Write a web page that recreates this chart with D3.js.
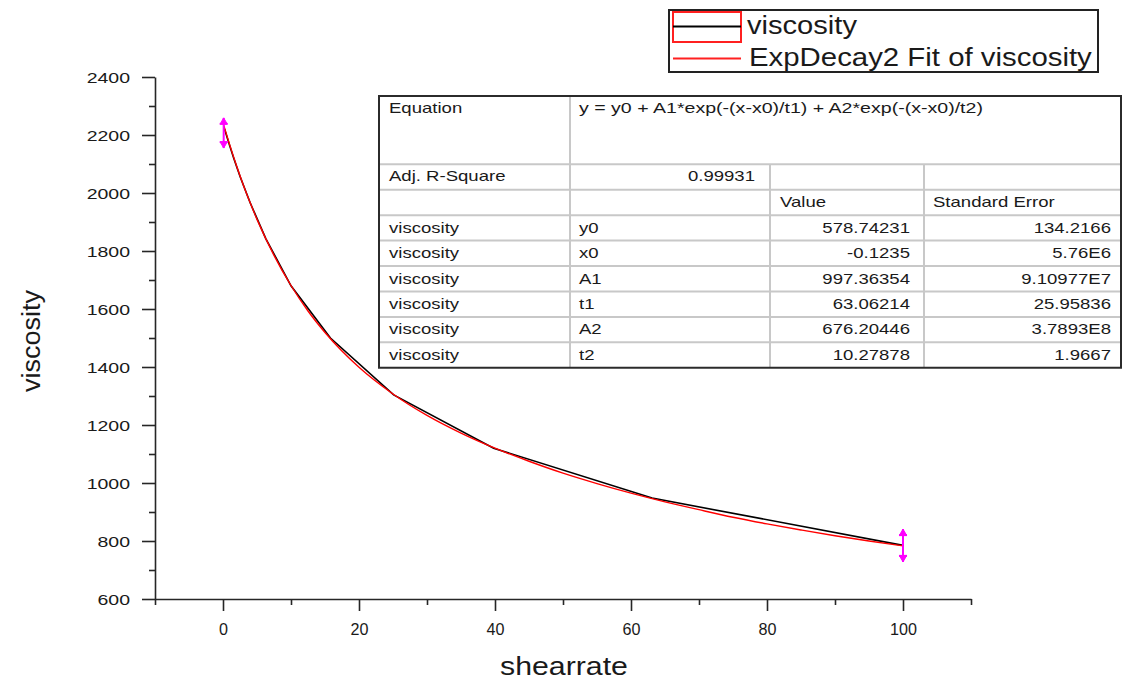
<!DOCTYPE html>
<html>
<head>
<meta charset="utf-8">
<script src="https://cdn.jsdelivr.net/npm/d3@7"></script>
<style>
  body { margin: 0; background: #fff; }
  svg { display: block; }
  text { font-family: "Liberation Sans", Arial, sans-serif; fill: #1a1a1a; }
</style>
</head>
<body>
<svg id="chart" width="1123" height="682"></svg>
<script>
// Measured viscosity vs. shear rate (log-spaced shear rates)
const shearRate = [0.1, 0.158, 0.251, 0.398, 0.631, 1, 1.58, 2.51, 3.98, 6.31, 10, 15.8, 25.1, 39.8, 63.1, 100];
const viscosity = [2226, 2224, 2218, 2208, 2190, 2162, 2120, 2057, 1967, 1842, 1680, 1500, 1304, 1120, 948, 785];

// Error bars on the first and last points
const errorX = [0.1, 100];
const errorLow = [2155, 728];
const errorHigh = [2259, 841];

// ExpDecay2 fit curve, sampled
const fitX = [0.1, 1, 2, 3, 4, 5, 7.5, 10, 12.5, 15, 20, 25, 30, 35, 40, 45, 50, 55, 60, 65, 70, 75, 80, 85, 90, 95, 100];
const fitY = [2234, 2165, 2093, 2027, 1966, 1909, 1785, 1681, 1593, 1519, 1399, 1307, 1233, 1172, 1120, 1075, 1034, 998, 965, 935, 908, 882, 859, 838, 818, 800, 783];

// Axis ticks
const xTicks = [0, 20, 40, 60, 80, 100];
const xMinorTicks = [-10, 10, 30, 50, 70, 90, 110];
const yTicks = [600, 800, 1000, 1200, 1400, 1600, 1800, 2000, 2200, 2400];
const yMinorTicks = [700, 900, 1100, 1300, 1500, 1700, 1900, 2100, 2300];

// Fit report table
const equationText = "y = y0 + A1*exp(-(x-x0)/t1) + A2*exp(-(x-x0)/t2)";
const adjR2 = "0.99931";
const paramNames = ["y0", "x0", "A1", "t1", "A2", "t2"];
const paramValues = ["578.74231", "-0.1235", "997.36354", "63.06214", "676.20446", "10.27878"];
const paramErrors = ["134.2166", "5.76E6", "9.10977E7", "25.95836", "3.7893E8", "1.9667"];

const legendLabels = ["viscosity", "ExpDecay2 Fit of viscosity"];

const svg = d3.select("#chart");

const x = d3.scaleLinear().domain([-10, 110]).range([155, 971]);
const y = d3.scaleLinear().domain([600, 2400]).range([599, 77]);

// Text helper: positions text and stretches it horizontally
function label(parent, str, px, py, size, opts = {}) {
  const t = parent.append("text")
    .attr("text-anchor", opts.anchor || "start")
    .style("font-size", size + "px")
    .style("font-weight", opts.weight || "normal")
    .text(str);
  let k = opts.k || 1;
  if (opts.width) k = opts.width / t.node().getComputedTextLength();
  const rot = opts.rotate ? ` rotate(${opts.rotate})` : "";
  t.attr("transform", `translate(${px},${py})${rot} scale(${k},1)`);
  return t;
}

// ---- Axes ----
const axisColor = "#262626";

function styleAxis(g) {
  g.attr("font-family", null).attr("font-size", null);
  g.selectAll("path.domain").attr("stroke", axisColor).attr("stroke-width", 1.6);
  g.selectAll("line").attr("stroke", axisColor).attr("stroke-width", 1.6);
}

// y axis
const yAxisG = svg.append("g").attr("transform", "translate(155,0)")
  .call(d3.axisLeft(y).tickValues(yTicks).tickSize(13).tickSizeOuter(0).tickFormat(d3.format("d")));
styleAxis(yAxisG);
yAxisG.selectAll(".tick text").each(function () {
  d3.select(this).attr("x", null).attr("dy", null)
    .attr("transform", "translate(-25,5.5) scale(1.3,1)")
    .style("font-size", "15px");
});
const yMinorG = svg.append("g").attr("transform", "translate(155,0)")
  .call(d3.axisLeft(y).tickValues(yMinorTicks).tickSize(6).tickSizeOuter(0).tickFormat(""));
styleAxis(yMinorG);
yMinorG.select("path.domain").remove();

// x axis
const xAxisG = svg.append("g").attr("transform", "translate(0,599)")
  .call(d3.axisBottom(x).tickValues(xTicks).tickSize(12).tickSizeOuter(0).tickFormat(d3.format("d")));
styleAxis(xAxisG);
xAxisG.selectAll(".tick text").each(function () {
  d3.select(this).attr("y", null).attr("dy", null)
    .attr("transform", "translate(0,36) scale(0.95,1)")
    .style("font-size", "17px");
});
const xMinorG = svg.append("g").attr("transform", "translate(0,599)")
  .call(d3.axisBottom(x).tickValues(xMinorTicks).tickSize(6).tickSizeOuter(0).tickFormat(""));
styleAxis(xMinorG);
xMinorG.select("path.domain").remove();

// Axis titles
label(svg, "shearrate", 564, 675, 26, { anchor: "middle", width: 128 });
label(svg, "viscosity", 40, 341, 25, { anchor: "middle", width: 102, rotate: -90 });

// ---- Series ----
const dataLine = d3.line().x((d, i) => x(shearRate[i])).y(d => y(d));
svg.append("path")
  .attr("d", dataLine(viscosity))
  .attr("fill", "none").attr("stroke", "#000").attr("stroke-width", 1.6);

const fitLine = d3.line().x((d, i) => x(fitX[i])).y(d => y(d)).curve(d3.curveMonotoneX);
svg.append("path")
  .attr("d", fitLine(fitY))
  .attr("fill", "none").attr("stroke", "#ff0000").attr("stroke-width", 1.4);

// Error bars with arrow caps
const errG = svg.append("g").attr("fill", "#ff00ff").attr("stroke", "#ff00ff");
errorX.forEach((ex, i) => {
  const cx = x(ex), top = y(errorHigh[i]), bot = y(errorLow[i]);
  errG.append("line").attr("x1", cx).attr("x2", cx).attr("y1", top).attr("y2", bot).attr("stroke-width", 2);
  errG.append("path").attr("stroke-width", 1)
    .attr("d", `M${cx},${top} L${cx - 3.5},${top + 6} L${cx + 3.5},${top + 6} Z`);
  errG.append("path").attr("stroke-width", 1)
    .attr("d", `M${cx},${bot} L${cx - 3.5},${bot - 6} L${cx + 3.5},${bot - 6} Z`);
  errG.append("line").attr("x1", cx - 4).attr("x2", cx + 4).attr("y1", top + 6).attr("y2", top + 6).attr("stroke-width", 2);
  errG.append("line").attr("x1", cx - 4).attr("x2", cx + 4).attr("y1", bot - 6).attr("y2", bot - 6).attr("stroke-width", 2);
});

// ---- Legend ----
const lg = svg.append("g");
lg.append("rect").attr("x", 669).attr("y", 10).attr("width", 429).attr("height", 62)
  .attr("fill", "#fff").attr("stroke", "#222").attr("stroke-width", 2);
lg.append("rect").attr("x", 673).attr("y", 12).attr("width", 68).attr("height", 30)
  .attr("fill", "none").attr("stroke", "#ff2020").attr("stroke-width", 2);
lg.append("line").attr("x1", 673).attr("x2", 741).attr("y1", 26.5).attr("y2", 26.5)
  .attr("stroke", "#000").attr("stroke-width", 2);
lg.append("line").attr("x1", 673).attr("x2", 741).attr("y1", 58.5).attr("y2", 58.5)
  .attr("stroke", "#ff2020").attr("stroke-width", 2);
label(lg, legendLabels[0], 747, 34, 25, { width: 110 });
label(lg, legendLabels[1], 749, 66, 25, { width: 343 });

// ---- Fit report table ----
const tb = svg.append("g");
const colX = [379, 570, 770, 924, 1121];
const rowTop = 164.3, rowH = 25.43, tableTop = 96, tableBottom = rowTop + rowH * 8;
const grid = "#c8c8c8";
tb.append("rect").attr("x", colX[0]).attr("y", tableTop).attr("width", colX[4] - colX[0])
  .attr("height", tableBottom - tableTop).attr("fill", "#fff");
// horizontal rules
for (let r = 0; r < 8; r++) {
  tb.append("line").attr("x1", colX[0]).attr("x2", colX[4])
    .attr("y1", rowTop + r * rowH).attr("y2", rowTop + r * rowH)
    .attr("stroke", grid).attr("stroke-width", 2);
}
// vertical rules
tb.append("line").attr("x1", colX[1]).attr("x2", colX[1]).attr("y1", tableTop).attr("y2", tableBottom)
  .attr("stroke", grid).attr("stroke-width", 2);
[colX[2], colX[3]].forEach(cx => {
  tb.append("line").attr("x1", cx).attr("x2", cx).attr("y1", rowTop).attr("y2", tableBottom)
    .attr("stroke", grid).attr("stroke-width", 2);
});
tb.append("rect").attr("x", colX[0]).attr("y", tableTop).attr("width", colX[4] - colX[0])
  .attr("height", tableBottom - tableTop).attr("fill", "none").attr("stroke", "#2b2b2b").attr("stroke-width", 2);

const fs = 14.5, kT = 1.28;
label(tb, "Equation", 389, 113, fs, { k: kT });
label(tb, equationText, 579, 113, fs, { width: 404 });
label(tb, "Adj. R-Square", 389, 181, fs, { k: kT });
label(tb, adjR2, 755, 181, fs, { anchor: "end", k: kT });
label(tb, "Value", 780, 206.5, fs, { k: kT });
label(tb, "Standard Error", 933, 206.5, fs, { k: kT });
paramNames.forEach((p, i) => {
  const base = rowTop + (i + 2) * rowH + 17.5;
  label(tb, "viscosity", 389, base, fs, { k: kT });
  label(tb, p, 579, base, fs, { k: kT });
  label(tb, paramValues[i], 910, base, fs, { anchor: "end", k: kT });
  label(tb, paramErrors[i], 1111, base, fs, { anchor: "end", k: kT });
});
</script>
</body>
</html>
